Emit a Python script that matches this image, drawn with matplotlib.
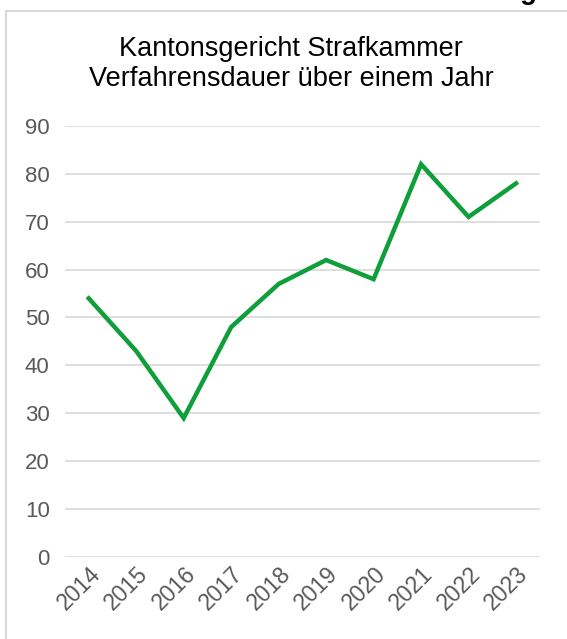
import matplotlib.pyplot as plt
from matplotlib.patches import Rectangle

years = ['2014', '2015', '2016', '2017', '2018', '2019', '2020', '2021', '2022', '2023']
values = [54, 43, 29, 48, 57, 62, 58, 82, 71, 78]

plt.rcParams['font.family'] = ['Liberation Sans', 'DejaVu Sans']

fig = plt.figure(figsize=(5.67, 6.39), dpi=100)
ax = fig.add_axes([0.1146, 0.1283, 0.952 - 0.1146, 0.803 - 0.1283])

# outer chart frame (cut off on the right)
fig.patches.append(Rectangle((6 / 567, -0.1), 1.0, 1 - 11 / 639 + 0.1,
                             transform=fig.transFigure, fill=False,
                             edgecolor='#d9d9d9', linewidth=1.5))
# fragment of a heading above the chart, cut off in the source
fig.text(528 / 567, 1.0 + 8 / 639, 'g', ha='center', va='center', fontsize=20,
         fontweight='bold', color='black')

x = range(len(years))
ax.plot(x, values, color='#0e9f3a', linewidth=3.2, solid_joinstyle='miter')

ax.set_xlim(-0.5, len(years) - 0.5)
ax.set_ylim(0, 90)
ax.set_yticks(range(0, 91, 10))
ax.set_xticks(list(x))
ax.set_xticklabels(years, rotation=45, ha='right', rotation_mode='anchor')
ax.yaxis.grid(True, color='#d9d9d9', linewidth=1.2)
ax.set_axisbelow(True)
for s in ax.spines.values():
    s.set_visible(False)
ax.tick_params(length=0, colors='#595959', labelsize=16)
ax.tick_params(axis='y', pad=11)
ax.tick_params(axis='x', pad=4, labelsize=16.5)

fig.text(291 / 567, 1 - 64 / 639, 'Kantonsgericht Strafkammer\nVerfahrensdauer über einem Jahr',
         ha='center', va='center', fontsize=19.5, linespacing=1.22)

fig.savefig('out.png', dpi=100)
